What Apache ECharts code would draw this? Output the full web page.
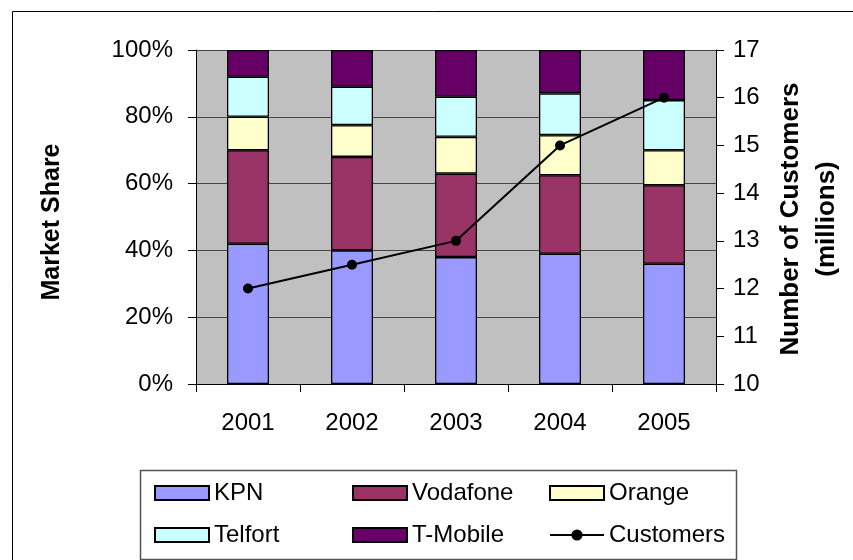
<!DOCTYPE html>
<html>
<head>
<meta charset="utf-8">
<script src="https://cdn.jsdelivr.net/npm/echarts@6/dist/echarts.min.js"></script>
<style>
  html, body { margin: 0; padding: 0; background: #fff; }
  #chart { width: 853px; height: 560px; }
</style>
</head>
<body>
<div id="chart"></div>
<script>
const years = ['2001', '2002', '2003', '2004', '2005']
const kpn = [42, 40, 38, 39, 36]
const vodafone = [28, 28, 25, 23.5, 23.5]
const orange = [10, 9.5, 11, 12, 10.5]
const telfort = [12, 11.5, 12, 12.5, 15]
const tmobile = [8, 11, 14, 13, 15]
const customers = [12, 12.5, 13, 15, 16]

const font = "'Liberation Sans', Arial, sans-serif"

const chart = echarts.init(document.getElementById('chart'))

const barSeries = (name, data, color) => ({
  name,
  type: 'bar',
  stack: 'share',
  data,
  barWidth: 42,
  itemStyle: { color, borderColor: '#000', borderWidth: 1.3 }
})

const legendCol = (left, data) => ({
  orient: 'vertical',
  left,
  top: 476,
  itemWidth: 54,
  itemHeight: 14,
  itemGap: 18,
  data,
  textStyle: { fontFamily: font, fontSize: 24, color: '#000', lineHeight: 24 }
})

const option = {
  animation: false,
  grid: { left: 196, right: 137, top: 50, bottom: 176, backgroundColor: '#c0c0c0', show: true, borderWidth: 0 },
  xAxis: {
    type: 'category',
    data: years,
    axisLine: { lineStyle: { color: '#000', width: 1 } },
    axisTick: { show: true, length: 8, lineStyle: { color: '#000' } },
    axisLabel: { fontFamily: font, fontSize: 24, color: '#000', margin: 27 }
  },
  yAxis: [
    {
      type: 'value',
      min: 0,
      max: 100,
      interval: 20,
      axisLine: { show: true, lineStyle: { color: '#000' } },
      axisTick: { show: true, length: 8, lineStyle: { color: '#000' } },
      axisLabel: { formatter: '{value}%', fontFamily: font, fontSize: 24, color: '#000', margin: 23 },
      splitLine: { show: true, lineStyle: { color: '#444', width: 1 } }
    },
    {
      type: 'value',
      min: 10,
      max: 17,
      interval: 1,
      position: 'right',
      axisLine: { show: true, lineStyle: { color: '#000' } },
      axisTick: { show: true, length: 8, lineStyle: { color: '#000' } },
      axisLabel: { fontFamily: font, fontSize: 24, color: '#000', margin: 17 },
      splitLine: { show: false }
    }
  ],
  legend: [
    legendCol(149, [{ name: 'KPN', icon: 'rect' }, { name: 'Telfort', icon: 'rect' }]),
    legendCol(347, [{ name: 'Vodafone', icon: 'rect' }, { name: 'T-Mobile', icon: 'rect' }]),
    legendCol(544, [{ name: 'Orange', icon: 'rect' }, 'Customers'])
  ],
  graphic: [
    {
      type: 'rect',
      left: 10, top: 9,
      shape: { width: 900, height: 600 },
      style: { fill: 'none', stroke: '#000', lineWidth: 1 }
    },
    {
      type: 'rect',
      left: 138, top: 468,
      shape: { width: 596, height: 89 },
      style: { fill: 'none', stroke: '#555', lineWidth: 1.5 },
      z: -1
    },
    {
      type: 'text',
      x: 52, y: 222, rotation: Math.PI / 2,
      style: { text: 'Market Share', font: 'bold 25px ' + font, fill: '#000', align: 'center', verticalAlign: 'middle' }
    },
    {
      type: 'text',
      x: 791, y: 219, rotation: Math.PI / 2,
      style: { text: 'Number of Customers', font: 'bold 26px ' + font, fill: '#000', align: 'center', verticalAlign: 'middle' }
    },
    {
      type: 'text',
      x: 827, y: 219, rotation: Math.PI / 2,
      style: { text: '(millions)', font: 'bold 26px ' + font, fill: '#000', align: 'center', verticalAlign: 'middle' }
    }
  ],
  series: [
    barSeries('KPN', kpn, '#9999ff'),
    barSeries('Vodafone', vodafone, '#993366'),
    barSeries('Orange', orange, '#ffffcc'),
    barSeries('Telfort', telfort, '#ccffff'),
    barSeries('T-Mobile', tmobile, '#660066'),
    {
      name: 'Customers',
      type: 'line',
      yAxisIndex: 1,
      data: customers,
      symbol: 'circle',
      symbolSize: 10,
      itemStyle: { color: '#000' },
      lineStyle: { color: '#000', width: 2 },
      z: 5
    }
  ]
}
chart.setOption(option)
</script>
</body>
</html>
